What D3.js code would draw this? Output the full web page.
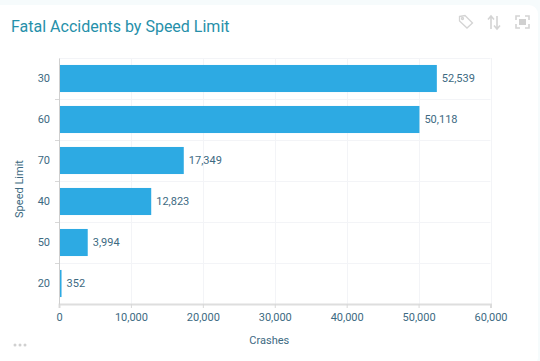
<!DOCTYPE html>
<html>
<head>
<meta charset="utf-8">
<script src="https://cdnjs.cloudflare.com/ajax/libs/d3/7.8.5/d3.min.js"></script>
<style>
  html, body { margin: 0; padding: 0; background: #f6fbfc; overflow: hidden; }
  svg { display: block; font-family: Roboto, sans-serif; }
</style>
</head>
<body>
<div id="chart"></div>
<script>
const speedLimits = ["30", "60", "70", "40", "50", "20"]
const crashes = [52539, 50118, 17349, 12823, 3994, 352]
const xTicks = [0, 10000, 20000, 30000, 40000, 50000, 60000]

const width = 540
const height = 361
const margin = { top: 58, right: 49.5, bottom: 57, left: 59 }
const innerWidth = width - margin.left - margin.right
const innerHeight = height - margin.top - margin.bottom
const textColor = "#3d6a82"

const svg = d3.select("#chart")
  .append("svg")
  .attr("width", width)
  .attr("height", height)

// CARD
svg.append("rect")
  .attr("x", -10)
  .attr("y", 5)
  .attr("width", width + 10 - 2)
  .attr("height", height)
  .attr("rx", 9)
  .attr("fill", "#fff")

svg.append("text")
  .attr("x", 11)
  .attr("y", 32)
  .attr("fill", "#2690aa")
  .style("font-size", "16px")
  .text("Fatal Accidents by Speed Limit")

// HEADER ICONS
const icons = svg.append("g")
  .attr("fill", "none")
  .attr("stroke", "#d4d4d4")
  .attr("stroke-width", 1.3)

icons.append("path")
  .attr("d", "M459.500 16.500 L465 15.500 L472.500 23 L467 28 L459.500 21 Z")
icons.append("circle")
  .attr("cx", 462.500)
  .attr("cy", 18.500)
  .attr("r", 1)
icons.append("path")
  .attr("stroke-width", 1.6)
  .attr("d", "M491 29 V16 M488 19.500 L491 16 L494 19.500 M497 16 V29 M494 25.500 L497 29 L500 25.500")
icons.append("path")
  .attr("stroke-width", 1.6)
  .attr("d", "M516 20 V16 H520 M525 16 H529 V20 M529 24 V28 H525 M520 28 H516 V24")
svg.append("rect")
  .attr("x", 519)
  .attr("y", 19)
  .attr("width", 7)
  .attr("height", 6)
  .attr("fill", "#d0d0d0")

const g = svg.append("g")
  .attr("transform", "translate(" + margin.left + "," + margin.top + ")")

const x = d3.scaleLinear()
  .domain([0, 60000])
  .range([0, innerWidth])

const y = d3.scaleBand()
  .domain(speedLimits)
  .range([0, innerHeight])
  .paddingInner(0.34)
  .paddingOuter(0.17)

// GRID
g.selectAll(".grid-x")
  .data(xTicks.slice(1))
  .enter()
  .append("line")
  .attr("x1", d => Math.round(x(d)) + 0.5)
  .attr("x2", d => Math.round(x(d)) + 0.5)
  .attr("y1", 0)
  .attr("y2", innerHeight)
  .attr("stroke", "#f3f4f7")

const step = y.step()
g.selectAll(".grid-y")
  .data(speedLimits)
  .enter()
  .append("line")
  .attr("x1", 0)
  .attr("x2", innerWidth)
  .attr("y1", d => Math.round(y(d) - y.paddingOuter() * step) + 0.5)
  .attr("y2", d => Math.round(y(d) - y.paddingOuter() * step) + 0.5)
  .attr("stroke", "#f3f4f7")

// BARS
g.selectAll(".bar")
  .data(crashes)
  .enter()
  .append("rect")
  .attr("x", 0)
  .attr("y", (d, i) => y(speedLimits[i]))
  .attr("width", d => x(d))
  .attr("height", y.bandwidth())
  .attr("fill", "#2daae3")

// VALUE LABELS
g.selectAll(".value")
  .data(crashes)
  .enter()
  .append("text")
  .attr("x", d => x(d) + 5)
  .attr("y", (d, i) => y(speedLimits[i]) + y.bandwidth() / 2)
  .attr("dy", "0.35em")
  .attr("fill", textColor)
  .style("font-size", "11px")
  .text(d => d3.format(",")(d))

// AXES
const xAxis = g.append("g")
  .attr("transform", "translate(0," + innerHeight + ")")
  .call(d3.axisBottom(x).tickValues(xTicks).tickFormat(d3.format(",")).tickSize(4).tickPadding(5))

const yAxis = g.append("g")
  .call(d3.axisLeft(y).tickSize(0).tickPadding(9))

for (const axis of [xAxis, yAxis]) {
  axis.selectAll("text")
    .attr("fill", textColor)
    .style("font-family", "Roboto, sans-serif")
    .style("font-size", "11px")
  axis.selectAll("line").attr("stroke", "#d8d8d8")
}
xAxis.select(".domain").attr("stroke", "#dedede").attr("stroke-width", 2)
yAxis.select(".domain").attr("stroke", "#cfcfcf")

// Y TICKS SIT BETWEEN THE BANDS
g.selectAll(".band-tick")
  .data(speedLimits.slice(1))
  .enter()
  .append("line")
  .attr("x1", -4)
  .attr("x2", 0)
  .attr("y1", d => Math.round(y(d) - y.paddingOuter() * step) + 0.5)
  .attr("y2", d => Math.round(y(d) - y.paddingOuter() * step) + 0.5)
  .attr("stroke", "#d8d8d8")

// AXIS TITLES
g.append("text")
  .attr("transform", "rotate(-90)")
  .attr("x", -innerHeight / 2 - 8)
  .attr("y", -36)
  .attr("text-anchor", "middle")
  .attr("fill", textColor)
  .style("font-size", "11px")
  .text("Speed Limit")

g.append("text")
  .attr("x", innerWidth / 2 - 5.5)
  .attr("y", innerHeight + 40)
  .attr("text-anchor", "middle")
  .attr("fill", textColor)
  .style("font-size", "11px")
  .text("Crashes")

// MENU DOTS
svg.selectAll(".dot")
  .data([0, 1, 2])
  .enter()
  .append("circle")
  .attr("cx", d => 15 + d * 5)
  .attr("cy", 345)
  .attr("r", 1.500)
  .attr("fill", "#d0d0d0")
</script>
</body>
</html>
